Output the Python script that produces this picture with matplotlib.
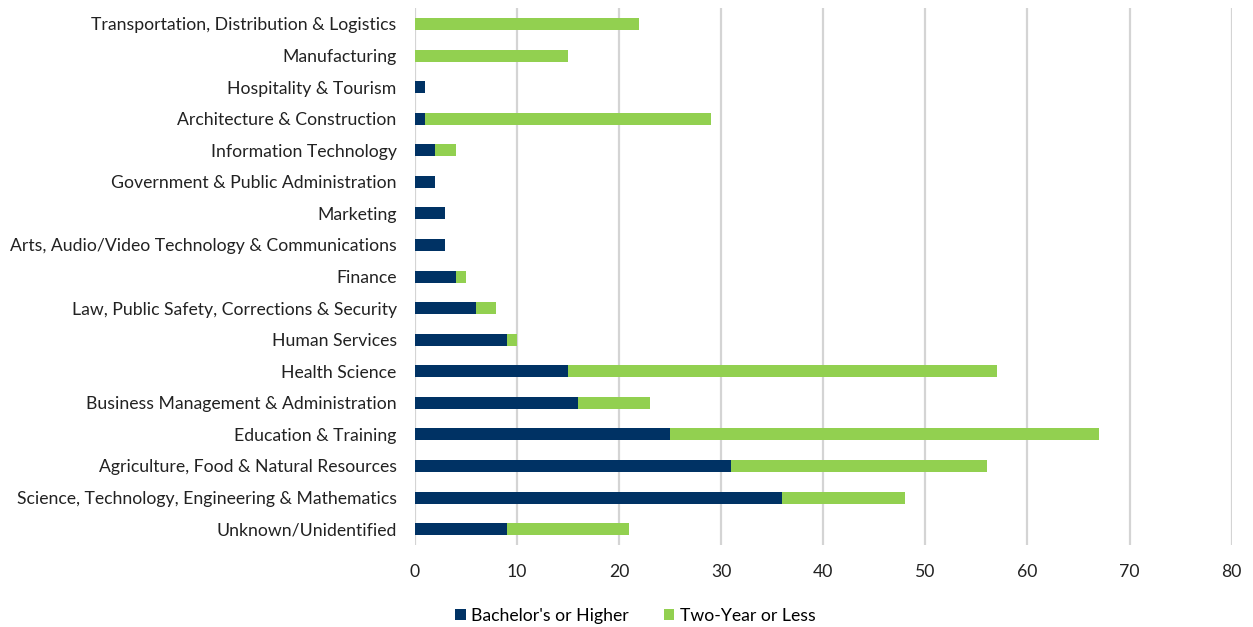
import matplotlib.pyplot as plt
import numpy as np

plt.rcParams['font.family'] = ['Lato', 'DejaVu Sans']

# categories listed top to bottom as in the chart
categories = [
    "Transportation, Distribution & Logistics",
    "Manufacturing",
    "Hospitality & Tourism",
    "Architecture & Construction",
    "Information Technology",
    "Government & Public Administration",
    "Marketing",
    "Arts, Audio/Video Technology & Communications",
    "Finance",
    "Law, Public Safety, Corrections & Security",
    "Human Services",
    "Health Science",
    "Business Management & Administration",
    "Education & Training",
    "Agriculture, Food & Natural Resources",
    "Science, Technology, Engineering & Mathematics",
    "Unknown/Unidentified",
]
bachelors = [0, 0, 1, 1, 2, 2, 3, 3, 4, 6, 9, 15, 16, 25, 31, 36, 9]
two_year = [22, 15, 0, 28, 2, 0, 0, 0, 1, 2, 1, 42, 7, 42, 25, 12, 12]

navy = "#003264"
green = "#92D050"

fig = plt.figure(figsize=(12.53, 6.27), dpi=100)
ax = fig.add_axes([0.331, 0.131, 0.652, 0.856])

y = np.arange(len(categories))[::-1]
ax.barh(y, bachelors, height=0.38, color=navy, label="Bachelor's or Higher")
ax.barh(y, two_year, left=bachelors, height=0.38, color=green, label="Two-Year or Less")

ax.set_xlim(0, 80)
ax.set_ylim(-0.5, len(categories) - 0.5)
ax.set_xticks(range(0, 81, 10))
ax.set_yticks(y)
ax.set_yticklabels(categories)
ax.tick_params(axis='y', length=0, pad=13, labelsize=12.7, labelcolor='#222222')
ax.tick_params(axis='x', length=0, pad=14, labelsize=12.7, labelcolor='#222222')
ax.grid(axis='x', color='#d4d4d4', linewidth=1.6)
ax.set_axisbelow(True)
for s in ax.spines.values():
    s.set_visible(False)

fig.legend(loc='lower center', bbox_to_anchor=(0.507, -0.02), ncol=2, frameon=False,
           fontsize=12.7, handlelength=0.6, handleheight=0.6, handletextpad=0.3,
           columnspacing=2.0)

fig.savefig("out.png", dpi=100)
